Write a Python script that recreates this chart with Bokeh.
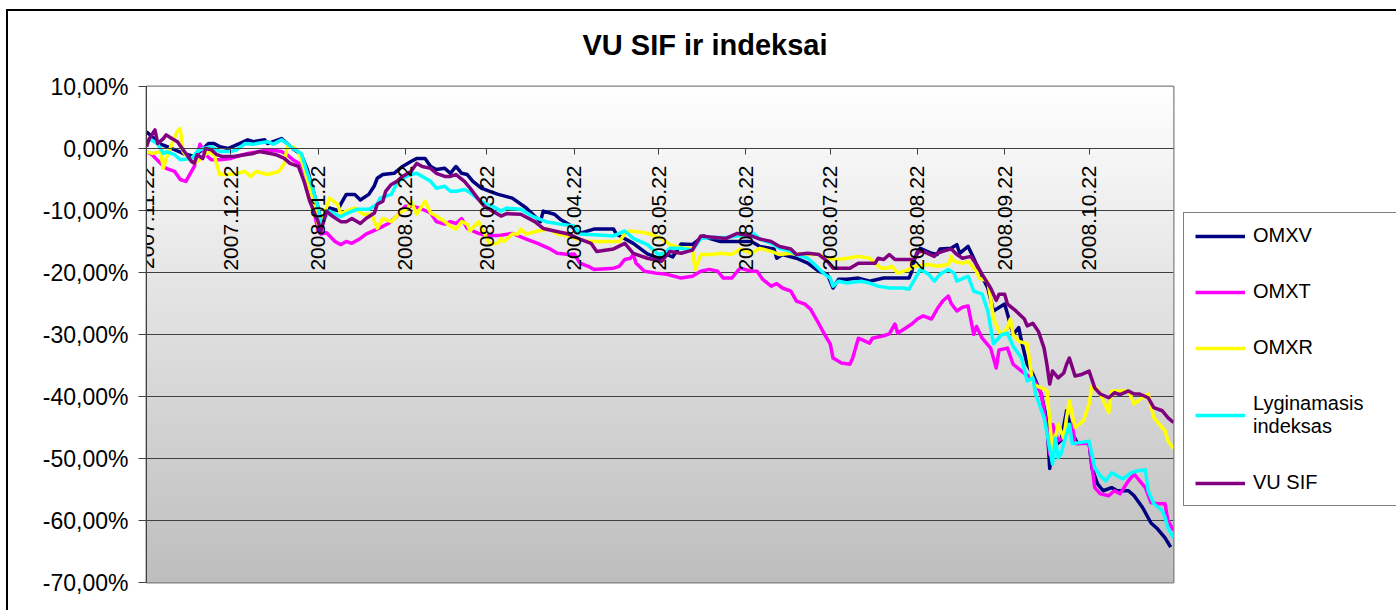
import numpy as np
import pandas as pd
from bokeh.plotting import figure
from bokeh.layouts import row
from bokeh.models import Range1d, FixedTicker, DatetimeTickFormatter, Legend, LegendItem
from bokeh.embed import file_html
from bokeh.resources import INLINE

# ---------------- data ----------------
start_date = "2007-11-22"
end_date = "2008-11-21"

x_tick_labels = ["2007.11.22", "2007.12.22", "2008.01.22", "2008.02.22", "2008.03.22",
                 "2008.04.22", "2008.05.22", "2008.06.22", "2008.07.22", "2008.08.22",
                 "2008.09.22", "2008.10.22"]
y_ticks = [10, 0, -10, -20, -30, -40, -50, -60, -70]
y_tick_labels = ["10,00%", "0,00%", "-10,00%", "-20,00%", "-30,00%", "-40,00%",
                 "-50,00%", "-60,00%", "-70,00%"]

series_names = ["OMXV", "OMXT", "OMXR", "Lyginamasis\nindeksas", "VU SIF"]
series_colors = ["#000080", "#FF00FF", "#FFFF00", "#00FFFF", "#800080"]

# days since 2007-11-22, value in %
omxv_days = [0, 1, 5, 9, 13, 17, 20, 22, 24, 26, 29, 32, 36, 38, 42, 43, 48, 50, 52, 55, 57, 59, 61, 62,
             65, 68, 69, 71, 74, 76, 79, 81, 82, 84, 88, 91, 94, 96, 99, 101, 103, 106, 108, 110, 112,
             114, 116, 119, 122, 125, 130, 135, 140, 141, 145, 147, 150, 154, 159, 166, 167, 173, 178,
             183, 185, 187, 190, 194, 198, 200, 204, 210, 215, 218, 223, 224, 226, 231, 235, 239, 242,
             244, 246, 249, 253, 257, 262, 267, 271, 272, 273, 275, 279, 281, 282, 286, 288, 289, 292,
             294, 296, 299, 301, 305, 306, 308, 310, 311, 313, 315, 318, 320, 321, 322, 325, 327, 329,
             331, 335, 336, 338, 340, 343, 345, 349, 351, 354, 357, 359, 362, 364]
omxv_vals = [2.7, 2.3, 0.7, 0.0, -0.8, -1.3, -0.1, 0.8, 0.8, 0.3, 0.0, 0.6, 1.4, 1.1, 1.4, 0.8, 1.6, 0.8,
             0.0, -1.0, -3.2, -6.4, -9.6, -11.8, -9.6, -10.0, -9.0, -7.4, -7.4, -8.3, -7.4, -6.0, -4.8,
             -4.2, -4.0, -2.9, -2.1, -1.6, -1.6, -2.9, -3.4, -3.2, -4.0, -2.9, -4.0, -4.2, -5.3, -6.4,
             -6.9, -7.4, -8.0, -9.6, -11.8, -10.1, -10.6, -11.4, -12.2, -13.7, -13.0, -13.0, -13.8,
             -15.3, -17.0, -17.9, -17.1, -17.5, -15.4, -15.5, -14.1, -14.5, -15.0, -15.0, -15.0, -15.8,
             -16.2, -17.7, -17.1, -17.7, -18.5, -19.8, -20.3, -22.5, -21.1, -21.1, -20.9, -21.4, -20.9,
             -20.9, -20.9, -19.8, -17.7, -16.1, -16.9, -17.1, -16.2, -16.1, -15.5, -16.9, -15.8, -17.7,
             -19.8, -22.5, -26.2, -25.1, -26.7, -30.0, -28.9, -31.1, -34.8, -36.4, -39.6, -43.9, -51.6,
             -48.3, -47.1, -42.3, -46.0, -47.6, -47.4, -51.5, -54.1, -55.2, -54.7, -55.2, -55.2, -56.0,
             -57.9, -60.4, -61.2, -62.8, -64.3]

omxt_days = [0, 2, 5, 7, 10, 12, 14, 16, 17, 19, 21, 23, 26, 30, 32, 36, 40, 43, 48, 50, 52, 55, 57, 59,
             61, 62, 64, 67, 69, 71, 73, 76, 78, 82, 86, 89, 92, 94, 97, 101, 103, 106, 108, 110, 112,
             114, 118, 121, 126, 130, 135, 139, 143, 146, 150, 152, 154, 157, 159, 166, 168, 170, 172,
             173, 174, 177, 181, 185, 190, 194, 197, 200, 203, 205, 208, 210, 211, 215, 217, 219, 222,
             224, 226, 229, 231, 234, 236, 239, 241, 243, 244, 247, 250, 251, 253, 257, 258, 262, 264,
             266, 267, 272, 274, 276, 279, 281, 283, 285, 286, 288, 290, 292, 294, 295, 297, 300, 302,
             303, 306, 308, 311, 313, 315, 318, 320, 321, 322, 324, 326, 329, 330, 335, 337, 339, 342,
             344, 346, 349, 351, 353, 355, 357, 359, 362, 363, 365]
omxt_vals = [-0.5, -1.0, -2.4, -3.2, -3.7, -5.0, -5.3, -3.7, -2.9, 0.7, -1.0, -1.8, -1.8, -1.6, -1.3, -0.8,
             -0.5, -0.2, -0.5, -1.0, -1.8, -2.6, -4.8, -9.0, -13.3, -13.8, -13.6, -15.0, -15.5, -15.0,
             -15.3, -14.5, -13.8, -13.0, -12.1, -10.9, -9.3, -9.3, -9.6, -10.4, -11.8, -12.2, -11.8,
             -12.1, -11.3, -12.9, -13.7, -14.1, -14.0, -13.7, -14.6, -15.3, -16.1, -16.9, -17.1, -17.0,
             -18.5, -19.0, -19.5, -19.3, -19.0, -17.9, -17.7, -17.1, -18.5, -19.8, -20.1, -20.3, -20.9,
             -20.6, -19.8, -19.5, -19.8, -20.9, -20.9, -19.8, -19.3, -19.8, -19.8, -21.1, -22.2, -21.8,
             -22.5, -23.0, -24.6, -25.1, -25.9, -28.3, -30.0, -31.5, -33.8, -34.6, -34.8, -33.8, -30.6,
             -31.4, -30.6, -30.2, -29.9, -28.3, -29.8, -28.3, -27.5, -27.0, -27.5, -25.9, -24.6, -23.8,
             -25.0, -26.2, -25.6, -25.4, -30.0, -28.7, -30.6, -32.2, -35.4, -32.5, -32.2, -34.8, -35.9,
             -36.6, -37.0, -39.6, -45.0, -49.3, -44.5, -47.1, -46.6, -44.5, -47.6, -47.6, -54.7, -55.7,
             -56.0, -55.2, -55.7, -53.6, -52.5, -53.6, -54.7, -57.1, -57.3, -57.3, -60.0, -61.6]

omxr_days = [0, 2, 5, 6, 7, 9, 11, 12, 13, 15, 17, 19, 22, 24, 26, 29, 32, 35, 37, 39, 43, 47, 49, 50,
             52, 54, 56, 58, 60, 61, 62, 65, 68, 69, 71, 74, 77, 80, 82, 84, 87, 90, 93, 94, 96, 99,
             101, 103, 106, 108, 110, 112, 114, 115, 118, 122, 125, 126, 127, 130, 132, 133, 135, 139,
             143, 146, 150, 153, 157, 162, 168, 170, 172, 176, 179, 183, 186, 190, 194, 195, 197, 201,
             204, 208, 211, 215, 218, 222, 225, 229, 234, 239, 242, 246, 249, 253, 257, 261, 263, 265,
             267, 271, 273, 278, 281, 285, 286, 287, 290, 292, 295, 296, 299, 300, 301, 303, 304, 306,
             307, 308, 310, 313, 315, 318, 320, 321, 322, 324, 326, 327, 328, 330, 333, 335, 336, 338,
             339, 342, 343, 345, 349, 351, 353, 356, 358, 361, 362, 363, 365]
omxr_vals = [-0.5, -0.8, -0.5, -3.2, -1.6, 0.7, 2.8, 3.2, -0.5, -1.6, -2.4, -1.8, -0.5, -1.0, -4.2, -4.2,
             -4.0, -3.7, -4.5, -3.7, -4.2, -3.7, -2.4, 0.3, 0.3, -0.5, -3.2, -6.4, -9.6, -12.2, -12.4,
             -8.0, -9.0, -10.6, -10.1, -9.6, -10.6, -10.6, -12.9, -11.3, -11.8, -10.4, -9.6, -8.5, -10.6,
             -8.5, -10.4, -10.9, -11.8, -12.5, -13.0, -11.8, -12.2, -13.3, -11.8, -15.5, -15.2, -14.5,
             -15.0, -13.8, -13.8, -13.0, -13.8, -13.3, -13.0, -13.8, -14.1, -14.6, -15.0, -15.0, -15.0,
             -13.8, -13.3, -13.5, -13.8, -14.5, -15.5, -16.0, -16.1, -19.5, -17.1, -17.1, -16.9, -17.1,
             -16.2, -16.9, -16.1, -16.6, -17.1, -16.9, -17.1, -17.1, -17.7, -17.9, -17.7, -17.4, -17.7,
             -19.3, -19.3, -19.0, -20.1, -19.5, -19.0, -18.7, -19.0, -18.7, -17.4, -18.2, -18.5, -18.2,
             -19.8, -20.9, -21.4, -24.1, -27.4, -29.5, -30.0, -28.9, -27.5, -30.0, -31.1, -31.5, -38.0,
             -38.6, -39.0, -43.9, -48.8, -44.5, -46.7, -43.4, -40.7, -45.0, -43.9, -41.2, -38.3, -38.8,
             -39.6, -42.6, -39.1, -39.1, -39.1, -41.2, -40.5, -39.6, -43.4, -45.0, -45.5, -47.1, -48.4]

lyg_days = [0, 1, 4, 6, 7, 10, 12, 16, 18, 20, 23, 26, 30, 32, 35, 38, 43, 45, 48, 50, 52, 55, 57, 59,
            61, 62, 65, 69, 72, 75, 79, 82, 83, 87, 89, 91, 94, 96, 98, 101, 103, 106, 108, 110, 113,
            115, 118, 120, 123, 126, 128, 133, 137, 142, 147, 152, 154, 162, 166, 170, 173, 178, 182,
            184, 186, 190, 194, 197, 201, 205, 210, 216, 218, 222, 225, 229, 231, 235, 237, 241, 243,
            244, 246, 249, 254, 257, 260, 264, 269, 271, 273, 275, 278, 280, 282, 285, 287, 288, 292,
            294, 297, 299, 301, 304, 306, 308, 311, 313, 315, 316, 319, 321, 322, 323, 324, 325, 327,
            328, 329, 332, 335, 337, 339, 341, 343, 345, 347, 350, 352, 355, 356, 358, 361, 362, 363, 365]
lyg_vals = [1.1, 1.6, 0.7, -0.8, -0.5, -1.0, -1.8, -1.6, -0.5, 0.0, 0.3, -0.5, -0.5, -0.2, 0.8, 0.7, 1.1,
            0.7, 1.4, 0.8, 0.0, -0.8, -3.7, -6.4, -9.6, -12.2, -10.1, -11.0, -10.3, -9.8, -9.8, -9.0,
            -8.0, -7.4, -5.6, -4.8, -4.2, -4.0, -4.5, -5.3, -6.4, -6.1, -6.9, -6.9, -6.6, -7.1, -8.2,
            -8.8, -9.3, -10.1, -9.6, -9.8, -10.9, -11.8, -12.2, -12.5, -13.8, -14.0, -14.1, -13.3, -14.5,
            -15.5, -17.1, -16.9, -16.1, -16.1, -16.4, -14.5, -14.3, -14.4, -14.1, -13.8, -14.6, -15.3,
            -16.1, -16.6, -17.1, -17.7, -18.5, -20.3, -20.9, -22.2, -21.4, -21.7, -21.4, -21.7, -22.2,
            -22.5, -22.5, -22.7, -21.1, -19.5, -20.3, -21.4, -20.3, -19.5, -20.1, -21.4, -20.6, -23.0,
            -23.5, -26.2, -31.5, -30.0, -29.8, -31.9, -33.8, -37.5, -37.0, -39.6, -43.4, -48.3, -50.9,
            -46.7, -49.9, -49.3, -46.0, -44.5, -47.6, -47.4, -47.2, -51.5, -52.8, -53.6, -52.3, -52.8,
            -53.3, -52.3, -52.0, -51.8, -55.2, -57.3, -58.4, -59.5, -61.2, -62.8]

vusif_days = [0, 1, 3, 4, 6, 7, 9, 11, 13, 14, 16, 17, 18, 20, 21, 23, 25, 27, 31, 35, 38, 40, 44, 46,
              49, 51, 54, 56, 58, 61, 62, 64, 66, 69, 71, 73, 76, 78, 81, 82, 84, 85, 87, 89, 91, 94,
              96, 98, 101, 103, 106, 108, 110, 113, 115, 118, 120, 123, 126, 128, 133, 138, 141, 145,
              150, 154, 158, 160, 166, 170, 173, 178, 183, 186, 190, 194, 197, 201, 206, 210, 215, 218,
              222, 225, 229, 231, 235, 239, 242, 244, 247, 250, 253, 257, 259, 260, 262, 264, 266, 269,
              273, 274, 276, 280, 281, 283, 286, 288, 290, 293, 295, 297, 300, 302, 303, 305, 306, 309,
              312, 313, 315, 317, 319, 320, 321, 322, 324, 326, 327, 328, 330, 332, 335, 337, 339, 342,
              344, 346, 349, 351, 353, 356, 358, 361, 363, 365]
vusif_vals = [0.3, 1.6, 3.0, 0.8, 1.6, 2.2, 1.6, 1.1, -0.2, -0.8, -2.1, -2.4, -1.0, -1.6, 0.0, -0.2, -1.0,
              -1.3, -1.3, -1.0, -0.8, -0.5, -0.8, -1.0, -1.6, -2.4, -2.9, -5.3, -8.5, -11.8, -13.3,
              -10.1, -10.9, -11.8, -11.8, -11.3, -12.1, -11.3, -10.4, -9.0, -8.5, -6.9, -5.8, -5.3, -4.5,
              -3.7, -2.4, -2.9, -3.2, -4.0, -4.5, -4.5, -4.2, -5.3, -6.4, -8.2, -9.3, -10.1, -10.9, -10.5,
              -10.6, -11.8, -12.9, -13.3, -13.8, -14.6, -15.3, -16.6, -16.2, -15.3, -16.9, -17.7, -18.2,
              -16.6, -16.9, -16.4, -14.1, -14.3, -14.5, -13.7, -14.1, -14.6, -15.0, -15.8, -16.2, -17.1,
              -16.9, -17.1, -18.2, -19.3, -19.3, -19.3, -18.5, -18.5, -18.5, -17.7, -17.9, -17.1, -17.9,
              -17.9, -17.9, -16.6, -16.6, -17.4, -16.9, -16.6, -16.2, -17.1, -17.7, -17.4, -18.7, -20.3,
              -22.5, -24.5, -23.5, -23.5, -25.1, -26.2, -27.5, -28.6, -28.2, -29.5, -32.2, -34.8, -38.0,
              -35.9, -37.0, -36.2, -34.8, -33.8, -36.7, -36.5, -35.9, -38.6, -39.6, -40.2, -39.4, -39.7,
              -39.1, -39.6, -39.6, -40.2, -41.8, -42.3, -43.4, -44.2]

series_days = [omxv_days, omxt_days, omxr_days, lyg_days, vusif_days]
series_vals = [omxv_vals, omxt_vals, omxr_vals, lyg_vals, vusif_vals]

# ---------------- main figure ----------------
FONT = "Liberation Sans"
t0 = pd.Timestamp(start_date)
t1 = pd.Timestamp(end_date)
H = 610

p = figure(width=1183, height=H, x_axis_type="datetime",
           x_range=Range1d(t0, t1), y_range=Range1d(-70, 10),
           output_backend="svg", toolbar_location=None,
           min_border_left=146, min_border_right=10, min_border_top=85, min_border_bottom=H - 582)
p.background_fill_color = "white"
p.border_fill_color = None
p.outline_line_color = "#808080"
p.outline_line_width = 2

# gradient background of plot area (white -> grey)
n_rows = 497
g = np.linspace(190, 255, n_rows).astype(np.uint8)
img = np.empty((n_rows, 1), dtype=np.uint32)
view = img.view(dtype=np.uint8).reshape((n_rows, 1, 4))
view[:, 0, 0] = g
view[:, 0, 1] = g
view[:, 0, 2] = g
view[:, 0, 3] = 255
p.image_rgba(image=[img], x=t0, y=-70, dw=(t1 - t0).total_seconds() * 1000.0, dh=80, level="image")

# title
p.title.text = "VU SIF ir indeksai"
p.title.text_font = FONT
p.title.text_font_size = "29px"
p.title.text_font_style = "bold"
p.title.text_color = "black"
p.title.align = "left"
p.title.offset = 436
p.title.standoff = 52

# grid
p.xgrid.visible = False
p.ygrid.grid_line_color = "#404040"
p.ygrid.grid_line_width = 1
p.ygrid.ticker = FixedTicker(ticks=y_ticks)

# y axis
p.yaxis.ticker = FixedTicker(ticks=y_ticks)
p.yaxis.major_label_overrides = {t: lab for t, lab in zip(y_ticks, y_tick_labels)}
p.yaxis.axis_line_color = "#404040"
p.yaxis.major_tick_line_color = "#404040"
p.yaxis.major_tick_out = 8
p.yaxis.major_tick_in = 0
p.yaxis.minor_tick_line_color = None
p.yaxis.major_label_text_font = FONT
p.yaxis.major_label_text_font_size = "23px"
p.yaxis.major_label_text_color = "black"
p.yaxis.major_label_standoff = 10

# x axis (crossing at 0 %)
tick_dates = pd.to_datetime(x_tick_labels, format="%Y.%m.%d")
tick_ms = [float(v) / 1e6 for v in tick_dates.astype("int64")]
p.xaxis.ticker = FixedTicker(ticks=tick_ms)
fmt = "%Y.%m.%d"
p.xaxis.formatter = DatetimeTickFormatter(microseconds=fmt, milliseconds=fmt, seconds=fmt, minsec=fmt,
                                          minutes=fmt, hourmin=fmt, hours=fmt, days=fmt, months=fmt,
                                          years=fmt)
p.xaxis.fixed_location = 0
p.xaxis.axis_line_color = "#404040"
p.xaxis.major_tick_line_color = "#404040"
p.xaxis.major_tick_out = 6
p.xaxis.major_tick_in = 0
p.xaxis.minor_tick_line_color = None
p.xaxis.major_label_orientation = np.pi / 2
p.xaxis.major_label_text_font = FONT
p.xaxis.major_label_text_font_size = "21px"
p.xaxis.major_label_text_color = "black"
p.xaxis.major_label_standoff = 11

# series
for name, color, days, vals in zip(series_names, series_colors, series_days, series_vals):
    xs = t0 + pd.to_timedelta(days, unit="D")
    p.line(x=xs, y=vals, line_color=color, line_width=3.5, line_join="round")

# ---------------- legend panel (separate figure at right) ----------------
lf = figure(width=213, height=H, x_axis_type="datetime",
            x_range=Range1d(t0, t1), y_range=Range1d(100, 200),
            output_backend="svg", toolbar_location=None,
            x_axis_location=None, y_axis_location=None,
            min_border_left=0, min_border_right=0, min_border_top=0, min_border_bottom=0)
lf.outline_line_color = None
lf.background_fill_color = None
lf.border_fill_color = None
lf.xgrid.visible = False
lf.ygrid.visible = False

items = []
for name, color, days, vals in zip(series_names, series_colors, series_days, series_vals):
    xs = t0 + pd.to_timedelta(days, unit="D")
    r = lf.line(x=xs, y=vals, line_color=color, line_width=3.5)
    items.append(LegendItem(label=name, renderers=[r]))

legend = Legend(items=items, location=(0, 76))
legend.label_text_font = FONT
legend.label_text_font_size = "20px"
legend.label_text_color = "black"
legend.border_line_color = "black"
legend.border_line_width = 1
legend.background_fill_color = "white"
legend.background_fill_alpha = 1
legend.padding = 11
legend.spacing = 33
legend.margin = 0
legend.glyph_width = 50
legend.glyph_height = 20
legend.label_height = 20
legend.label_standoff = 8
legend.label_width = 140
legend.label_text_line_height = 1.15
lf.add_layout(legend, "center")

layout = row(p, lf, spacing=0)
layout.styles = {
    "background": "linear-gradient(#000,#000) 7px 9px / 1389px 2px no-repeat, "
                  "linear-gradient(#000,#000) 6px 9px / 2px 602px no-repeat"
}

open("out.html", "w").write(file_html(layout, INLINE))
